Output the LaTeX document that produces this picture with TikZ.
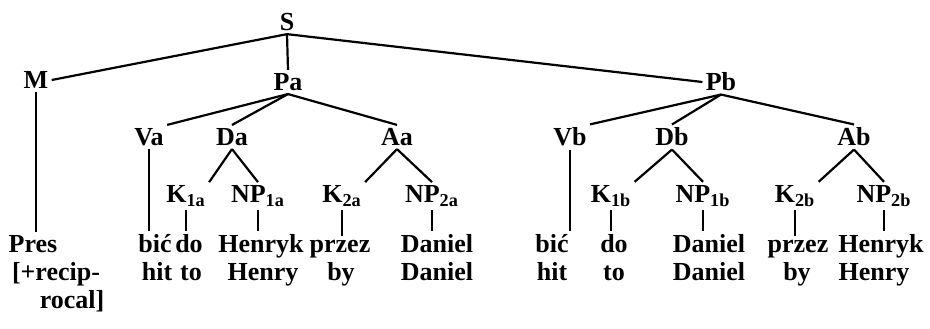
\documentclass[tikz,border=0pt]{standalone}
\usepackage{fontspec}
\setmainfont{Liberation Serif}

\begin{document}
\begin{tikzpicture}[
  x=0.5pt, y=-0.5pt,
  every node/.style={font=\bfseries\fontsize{13}{15}\selectfont, inner sep=1.5pt},
  word/.style={anchor=base},
  edge/.style={line width=1.1pt}
]
\useasboundingbox (0,0) rectangle (930,328);

% categories
\node (S)  at (287,22) {S};
\node (M)  at (36,80)  {M};
\node (Pa) at (288,82) {Pa};
\node (Pb) at (721,82) {Pb};

\node (Va) at (149,137) {Va};
\node (Da) at (232,137) {Da};
\node (Aa) at (397,137) {Aa};
\node (Vb) at (570,137) {Vb};
\node (Db) at (672,137) {Db};
\node (Ab) at (854,137) {Ab};

\node (K1a)  at (186,196) {K\textsubscript{1a}};
\node (NP1a) at (258,196) {NP\textsubscript{1a}};
\node (K2a)  at (342,196) {K\textsubscript{2a}};
\node (NP2a) at (432,196) {NP\textsubscript{2a}};
\node (K1b)  at (611,196) {K\textsubscript{1b}};
\node (NP1b) at (703,196) {NP\textsubscript{1b}};
\node (K2b)  at (795,196) {K\textsubscript{2b}};
\node (NP2b) at (884,196) {NP\textsubscript{2b}};

% words
\node[word] (pres)    at (33,252)  {Pres};
\node[word] (bica)    at (155,252) {bić};
\node[word] (doa)     at (189,252) {do};
\node[word] (henryka) at (261,252) {Henryk};
\node[word] (przeza)  at (340,252) {przez};
\node[word] (daniela) at (437,252) {Daniel};
\node[word] (bicb)    at (552,252) {bić};
\node[word] (dob)     at (614,252) {do};
\node[word] (danielb) at (709,252) {Daniel};
\node[word] (przezb)  at (798,252) {przez};
\node[word] (henrykb) at (881,252) {Henryk};

% glosses
\node[word] (recip)    at (56,280)  {[+recip-};
\node[word] (rocal)    at (72,308)  {rocal]};
\node[word] (hita)     at (157,280) {hit};
\node[word] (toa)      at (191,280) {to};
\node[word] (henrya)   at (263,280) {Henry};
\node[word] (bya)      at (341,280) {by};
\node[word] (danielga) at (437,280) {Daniel};
\node[word] (hitb)     at (552,280) {hit};
\node[word] (tob)      at (614,280) {to};
\node[word] (danielgb) at (709,280) {Daniel};
\node[word] (byb)      at (797,280) {by};
\node[word] (henryb)   at (874,280) {Henry};

% branches
\draw[edge] (S.south) -- (M.east);
\draw[edge] (S.south) -- (Pa.north);
\draw[edge] (S.south) -- (Pb.west);

\draw[edge] (Pa.south) -- (Va.north east);
\draw[edge] (Pa.south) -- (Da.north);
\draw[edge] (Pa.south) -- (Aa.north);
\draw[edge] (Pb.south) -- (Vb.north east);
\draw[edge] (Pb.south) -- (Db.north);
\draw[edge] (Pb.south) -- (Ab.north);

\draw[edge] (Da.south) -- (K1a.north east);
\draw[edge] (Da.south) -- (NP1a.north);
\draw[edge] (Aa.south) -- (K2a.north east);
\draw[edge] (Aa.south) -- (NP2a.north);
\draw[edge] (Db.south) -- (K1b.north east);
\draw[edge] (Db.south) -- (NP1b.north);
\draw[edge] (Ab.south) -- (K2b.north east);
\draw[edge] (Ab.south) -- (NP2b.north);

% down to the words
\draw[edge] (M.south) -- (M.south |- pres.north);
\draw[edge] (Va.south) -- (Va.south |- bica.north);
\draw[edge] (Vb.south) -- (Vb.south |- bicb.north);
\draw[edge] (K1a.south) -- (K1a.south |- doa.north);
\draw[edge] (NP1a.south) -- (NP1a.south |- henryka.north);
\draw[edge] (K2a.south) -- (K2a.south |- przeza.north);
\draw[edge] (NP2a.south) -- (NP2a.south |- daniela.north);
\draw[edge] (K1b.south) -- (K1b.south |- dob.north);
\draw[edge] (NP1b.south) -- (NP1b.south |- danielb.north);
\draw[edge] (K2b.south) -- (K2b.south |- przezb.north);
\draw[edge] (NP2b.south) -- (NP2b.south |- henrykb.north);

\end{tikzpicture}
\end{document}
